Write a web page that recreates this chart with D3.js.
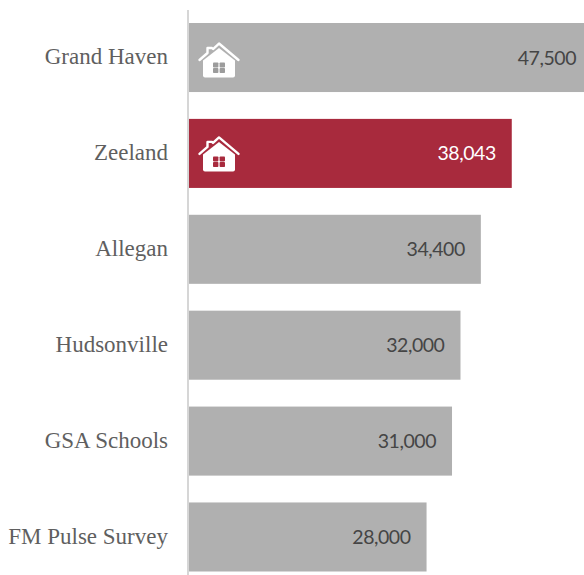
<!DOCTYPE html>
<html>
<head>
<meta charset="utf-8">
<script src="https://cdn.jsdelivr.net/npm/d3@7"></script>
<style>
html, body { margin: 0; padding: 0; background: #fff; overflow: hidden; }
svg { display: block; }
.cat { font-family: "Liberation Serif", serif; font-size: 23px; fill: #5f5f5f; }
.val { font-family: "Lato", sans-serif; font-size: 19.5px; letter-spacing: -0.45px; }
</style>
</head>
<body>
<svg id="chart" width="584" height="575"></svg>
<script>
const categories = ["Grand Haven", "Zeeland", "Allegan", "Hudsonville", "GSA Schools", "FM Pulse Survey"];
const enrollment = [47500, 38043, 34400, 32000, 31000, 28000];
const highlighted = ["Zeeland"];
const withIcon = ["Grand Haven", "Zeeland"];

const svg = d3.select("#chart");
const x = d3.scaleLinear().domain([0, 47500]).range([189, 592]);
const y = d3.scaleBand().domain(categories).range([23, 571.5]).paddingInner(0.28).paddingOuter(0);

const fillFor = c => highlighted.includes(c) ? "#a82a3d" : "#b0b0b0";
const rows = categories.map((c, i) => ({ c, v: enrollment[i] }));

svg.selectAll("rect.bar").data(rows).join("rect")
  .attr("class", "bar")
  .attr("x", x(0))
  .attr("y", d => y(d.c))
  .attr("width", d => x(d.v) - x(0))
  .attr("height", y.bandwidth())
  .attr("fill", d => fillFor(d.c));

// Vertical baseline along the category axis
svg.append("line")
  .attr("x1", 188).attr("x2", 188)
  .attr("y1", 10).attr("y2", 575)
  .attr("stroke", "#d6d6d6").attr("stroke-width", 2);

svg.selectAll("text.cat").data(rows).join("text")
  .attr("class", "cat")
  .attr("x", 168)
  .attr("y", d => y(d.c) + y.bandwidth() / 2)
  .attr("dy", "0.3em")
  .attr("text-anchor", "end")
  .text(d => d.c);

svg.selectAll("text.val").data(rows).join("text")
  .attr("class", "val")
  .attr("x", d => x(d.v) - 16)
  .attr("y", d => y(d.c) + y.bandwidth() / 2)
  .attr("dy", "0.36em")
  .attr("text-anchor", "end")
  .attr("fill", d => highlighted.includes(d.c) ? "#ffffff" : "#454545")
  .text(d => d3.format(",")(d.v));

// House pictogram, defined around its own origin and placed per row
const house = svg.selectAll("g.house").data(rows.filter(d => withIcon.includes(d.c))).join("g")
  .attr("class", "house")
  .attr("transform", d => `translate(219,${y(d.c) + y.bandwidth() / 2 + (highlighted.includes(d.c) ? 0 : 2)})`);

// Walls and gable
house.append("path")
  .attr("fill", "#ffffff")
  .attr("d", "M-16,1 L-16,16 Q-16,18 -14,18 L14,18 Q16,18 16,16 L16,1 L0,-11.5 Z");
// Roof with chimney, drawn as a separate stroke above the gable
house.append("path")
  .attr("fill", "none")
  .attr("stroke", "#ffffff")
  .attr("stroke-width", 2.4)
  .attr("stroke-linecap", "round")
  .attr("stroke-linejoin", "round")
  .attr("d", "M-19.5,0.5 L-11.5,-6.5 L-11.5,-11.5 L-7,-11.5 L-6,-10.5 L0,-16 L19.5,0.5");
// Four-pane window
const panes = [[-6, 3], [0.6, 3], [-6, 8.6], [0.6, 8.6]];
panes.forEach(([px, py]) => {
  house.append("rect")
    .attr("x", px).attr("y", py).attr("width", 5.4).attr("height", 5)
    .attr("rx", 0.8)
    .attr("fill", d => highlighted.includes(d.c) ? "#a82a3d" : "#9c9c9c");
});
</script>
</body>
</html>
